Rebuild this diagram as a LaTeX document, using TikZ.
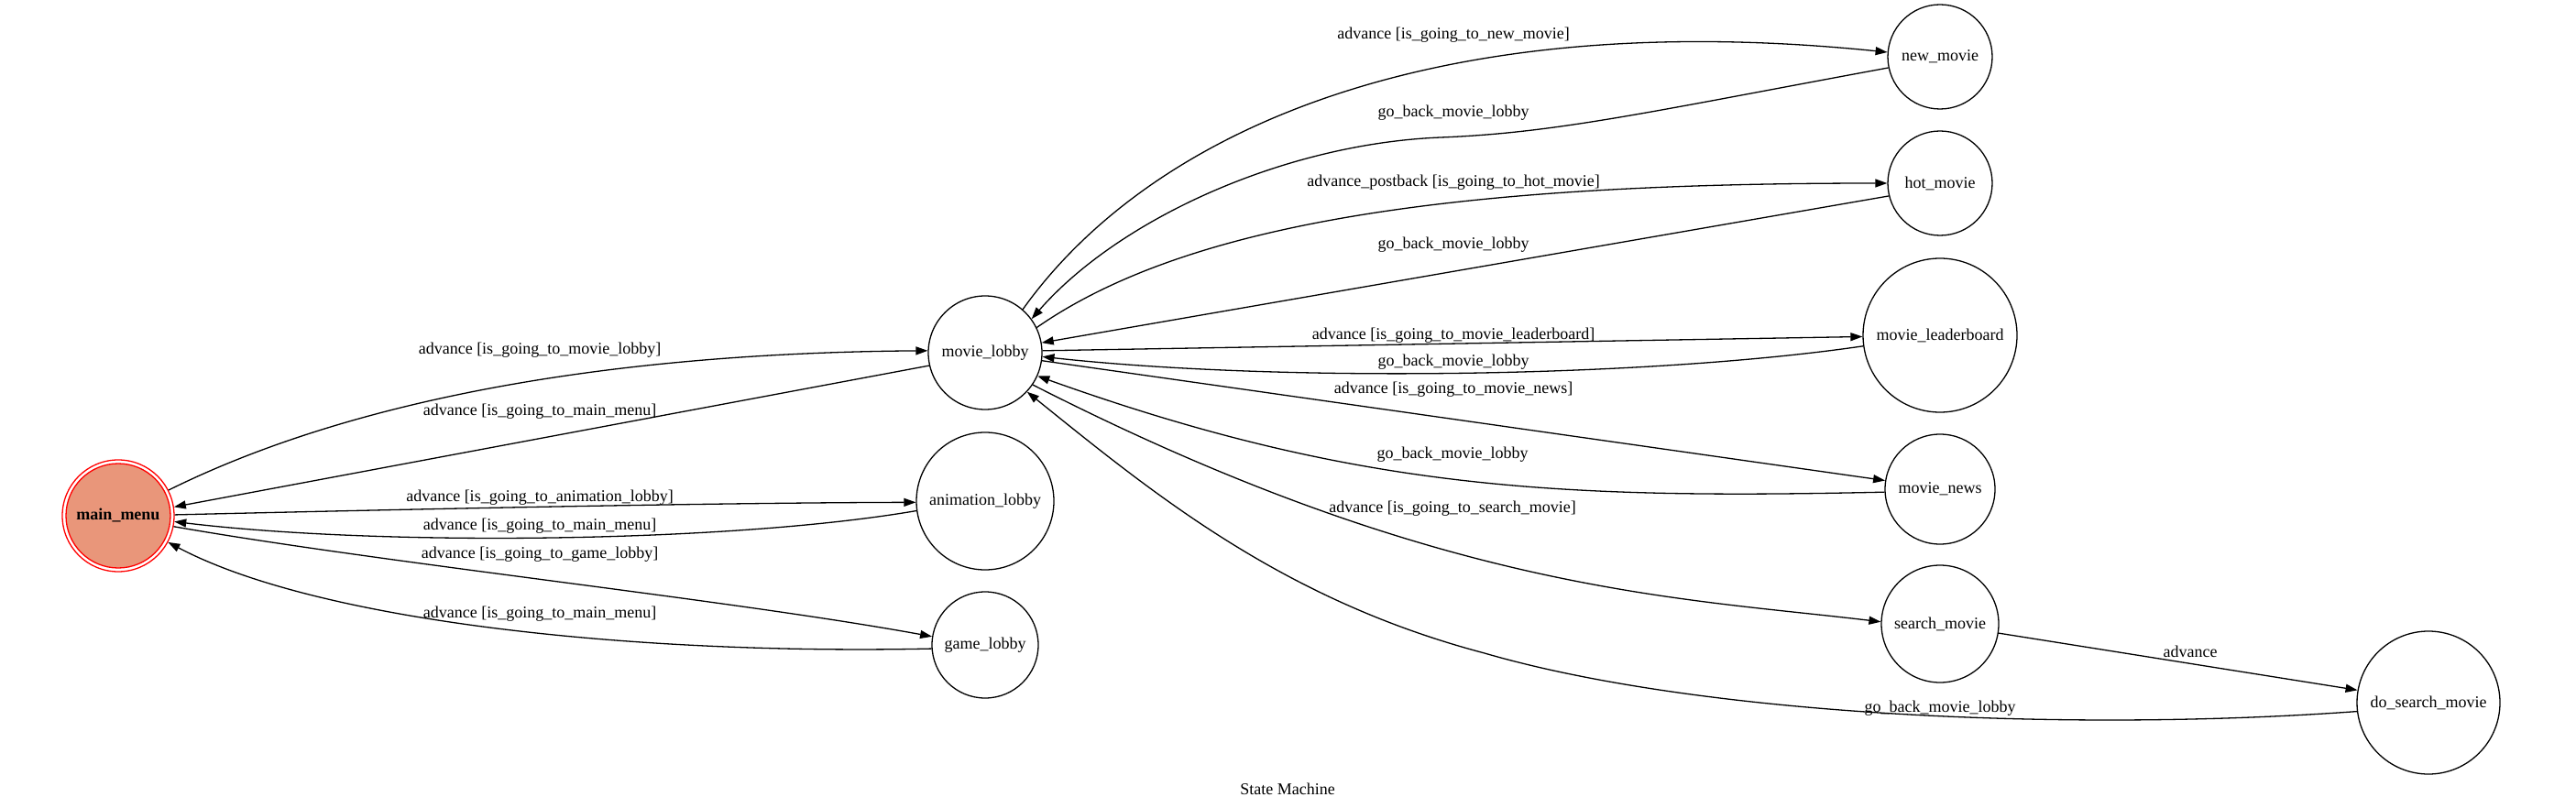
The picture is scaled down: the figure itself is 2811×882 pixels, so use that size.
\documentclass[tikz,border=0pt]{standalone}
\usepackage{fontspec}
\setmainfont{Liberation Serif}
\usetikzlibrary{arrows.meta}
\definecolor{salmonfill}{HTML}{E9967A}
\tikzset{
  every node/.style={font=\fontsize{18}{21}\selectfont},
  state/.style={circle, draw, line width=1.3pt, inner sep=0pt, minimum size=#1},
  lbl/.style={inner sep=0pt},
  edge/.style={line width=1.3pt, -{Triangle[length=13pt,width=9pt]}}
}
\begin{document}
\begin{tikzpicture}[x=1pt,y=-1pt]
\useasboundingbox (0,0) rectangle (2811,882);
% nodes
\node[circle, draw=red, fill=salmonfill, line width=1.3pt, inner sep=0pt, minimum size=114pt, outer sep=4.6pt, font=\fontsize{18}{21}\selectfont\bfseries] (main) at (129,563) {main\_menu};
\draw[red, line width=1.3pt] (main.center) circle[radius=61pt];
\node[state=124pt] (lobby) at (1075,385) {movie\_lobby};
\node[state=150pt] (anim) at (1075,547) {animation\_lobby};
\node[state=116pt] (game) at (1075,704) {game\_lobby};
\node[state=114pt] (new) at (2117,62) {new\_movie};
\node[state=114pt] (hot) at (2117,200) {hot\_movie};
\node[state=168pt] (lb) at (2117,366) {movie\_leaderboard};
\node[state=120pt] (news) at (2117,534) {movie\_news};
\node[state=128pt] (search) at (2117,681) {search\_movie};
\node[state=156pt] (dosearch) at (2650,767) {do\_search\_movie};
% edges
\draw[edge] (main.27) .. controls (410,423) and (713,385) .. (lobby.178);
\draw[edge] (lobby.193) -- (main.9);
\draw[edge] (main.1) .. controls (400,557) and (750,549) .. (anim.181);
\draw[edge] (anim.188) .. controls (800,592) and (420,597) .. (main.-6);
\draw[edge] (main.-11) .. controls (420,615) and (800,655) .. (game.171);
\draw[edge] (game.184) .. controls (700,715) and (350,680) .. (main.-28);
\draw[edge] (lobby.49) .. controls (1250,150) and (1550,5) .. (new.175);
\draw[edge] (new.192) .. controls (1800,122) and (1700,145) .. (1572,150) .. controls (1400,157) and (1220,240) .. (lobby.36);
\draw[edge] (lobby.26) .. controls (1300,240) and (1600,200) .. (hot.180);
\draw[edge] (hot.194) -- (lobby.10);
\draw[edge] (lobby.2) -- (lb.181);
\draw[edge] (lb.188) .. controls (1800,412) and (1400,418) .. (lobby.-4);
\draw[edge] (lobby.-8) -- (news.171);
\draw[edge] (news.183) .. controls (1700,545) and (1480,535) .. (lobby.-24);
\draw[edge] (lobby.-34) .. controls (1572,647) and (1830,652) .. (search.178);
\draw[edge] (dosearch.187) .. controls (2250,800) and (1850,780) .. (1620,713) .. controls (1400,655) and (1260,540) .. (lobby.-43);
\draw[edge] (search.-9) -- (dosearch.170);
% labels
\node[lbl] (l1) at (589,382) {advance [is\_going\_to\_movie\_lobby]};
\node[lbl] (l2) at (589,449) {advance [is\_going\_to\_main\_menu]};
\node[lbl] (l3) at (589,543) {advance [is\_going\_to\_animation\_lobby]};
\node[lbl] (l4) at (589,574) {advance [is\_going\_to\_main\_menu]};
\node[lbl] (l5) at (589,605) {advance [is\_going\_to\_game\_lobby]};
\node[lbl] (l6) at (589,670) {advance [is\_going\_to\_main\_menu]};
\node[lbl] (l7) at (1586,38) {advance [is\_going\_to\_new\_movie]};
\node[lbl] (l8) at (1586,123) {go\_back\_movie\_lobby};
\node[lbl] (l9) at (1586,199) {advance\_postback [is\_going\_to\_hot\_movie]};
\node[lbl] (l10) at (1586,267) {go\_back\_movie\_lobby};
\node[lbl] (l11) at (1586,366) {advance [is\_going\_to\_movie\_leaderboard]};
\node[lbl] (l12) at (1586,395) {go\_back\_movie\_lobby};
\node[lbl] (l13) at (1586,425) {advance [is\_going\_to\_movie\_news]};
\node[lbl] (l14) at (1585,496) {go\_back\_movie\_lobby};
\node[lbl] (l15) at (1585,555) {advance [is\_going\_to\_search\_movie]};
\node[lbl] (l16) at (2390,711) {advance};
\node[lbl] (l17) at (2117,773) {go\_back\_movie\_lobby};
\node[lbl] (title) at (1405,861) {State Machine};
\end{tikzpicture}
\end{document}
